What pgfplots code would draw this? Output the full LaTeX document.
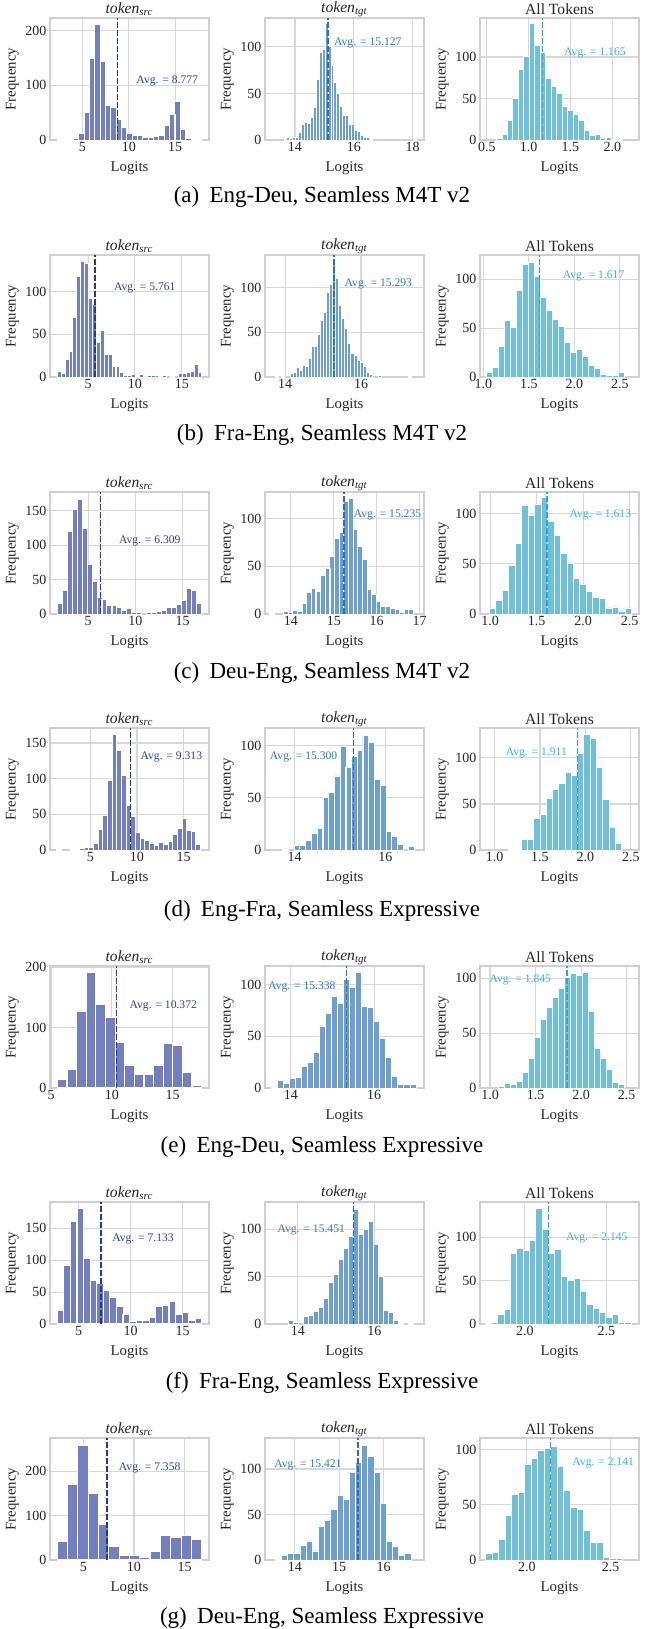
\documentclass[border=0pt]{standalone}
\usepackage{fontspec}
\setmainfont{Liberation Serif}
\usepackage{pgfplots}
\pgfplotsset{compat=1.18}
\definecolor{srcfill}{RGB}{115,127,190}
\definecolor{srcline}{RGB}{38,56,158}
\definecolor{srctext}{RGB}{45,65,165}
\definecolor{tgtfill}{RGB}{110,160,207}
\definecolor{tgtline}{RGB}{38,112,190}
\definecolor{tgttext}{RGB}{50,120,195}
\definecolor{allfill}{RGB}{112,192,217}
\definecolor{allline}{RGB}{40,168,208}
\definecolor{alltext}{RGB}{60,178,215}
\definecolor{gridc}{RGB}{216,216,216}
\definecolor{spinec}{RGB}{208,208,208}
\definecolor{txt}{RGB}{38,38,38}
\newcommand{\srctitle}{\textit{token}\textsubscript{\textit{src}}}
\newcommand{\tgttitle}{\textit{token}\textsubscript{\textit{tgt}}}
\tikzset{avgtext/.style={anchor=west, inner sep=0pt, font=\fontsize{5.8}{6}\selectfont}}
\pgfplotsset{
  every axis title shift=0pt,
  hbase/.style={
    scale only axis, width=79.5pt, height=61pt, anchor=north west, clip=false,
    ymin=0, axis line style={draw=spinec, line width=0.6pt},
    grid=major, grid style={draw=gridc, line width=0.55pt},
    major tick length=0pt,
    tick label style={font=\fontsize{7}{7}\selectfont, text=txt},
    xticklabel style={inner sep=0.8pt},
    yticklabel style={inner sep=0.8pt, xshift=-0.8pt},
    xlabel=Logits, ylabel=Frequency,
    label style={font=\fontsize{7.4}{7.5}\selectfont, text=txt},
    xlabel style={at={(axis description cs:0.5,-0.228)}, anchor=center},
    ylabel style={at={(axis description cs:-0.237,0.5)}, anchor=center},
    title style={at={(axis description cs:0.5,1.072)}, anchor=center, yshift=0pt, font=\fontsize{7.8}{8}\selectfont, inner sep=0pt, text=txt},
    /pgf/number format/assume math mode=true,
    scaled ticks=false,
  },
  onedec/.style={xticklabel style={/pgf/number format/.cd, fixed, fixed zerofill, precision=1}},
  srcbar/.style={ybar, bar shift=0pt, fill=srcfill, draw=white, line width=0.5pt},
  tgtbar/.style={ybar, bar shift=0pt, fill=tgtfill, draw=white, line width=0.4pt},
  allbar/.style={ybar, bar shift=0pt, fill=allfill, draw=white, line width=0.45pt},
  srcavg/.style={srcline, line width=0.8pt, dash pattern=on 2.8pt off 1.2pt},
  tgtavg/.style={tgtline, line width=0.8pt, dash pattern=on 2.8pt off 1.2pt},
  allavg/.style={allline, line width=0.8pt, dash pattern=on 2.8pt off 1.2pt},
}
\newcommand{\capfont}{\fontsize{11.5}{12}\selectfont}
\begin{document}
\begin{tikzpicture}
\useasboundingbox (0,0) rectangle (322pt,-814.5pt);
%================ Row (a)
\begin{axis}[hbase, at={(25pt,-9pt)}, xmin=1.5, xmax=18.64, ymax=223, xtick={5,10,15}, ytick={0,100,200}, title={\srctitle}]
\addplot[srcbar, bar width=0.577] coordinates {(2.57,1)(3.15,1)(3.72,1)(4.30,3)(4.88,11)(5.46,51)(6.03,149)(6.61,212)(7.19,143)(7.76,63)(8.34,59)(8.92,38)(9.49,23)(10.07,12)(10.65,9)(11.23,8)(11.80,4)(12.38,5)(12.96,7)(13.53,9)(14.11,27)(14.69,46)(15.26,70)(15.84,20)(16.42,3)(17.00,1)(17.57,1)};
\addplot[srcavg] coordinates {(8.777,0)(8.777,223)};
\node[avgtext, text=srctext] at (axis cs:10.78,108) {Avg. = 8.777};
\end{axis}
\begin{axis}[hbase, at={(132.5pt,-9pt)}, xmin=12.98, xmax=18.39, ymax=131, xtick={14,16,18}, ytick={0,50,100}, title={\tgttitle}]
\addplot[tgtbar, bar width=0.1, line width=0.3pt] coordinates {(13.67,1)(13.77,3)(13.87,2)(13.97,3)(14.07,3)(14.17,8)(14.27,17)(14.37,19)(14.47,18)(14.57,24)(14.67,35)(14.77,65)(14.87,94)(14.97,97)(15.07,125)(15.17,101)(15.27,80)(15.37,62)(15.47,50)(15.57,36)(15.67,26)(15.77,26)(15.87,17)(15.97,17)(16.07,10)(16.17,9)(16.27,5)(16.37,3)(16.47,3)(16.57,1)(18.07,1)};
\addplot[tgtavg] coordinates {(15.127,0)(15.127,131)};
\node[avgtext, text=tgttext] at (axis cs:15.32,104) {Avg. = 15.127};
\end{axis}
\begin{axis}[hbase, onedec, at={(240pt,-9pt)}, xmin=0.417, xmax=2.32, ymax=147, xtick={0.5,1.0,1.5,2.0}, ytick={0,50,100}, title={All Tokens}]
\addplot[allbar, bar width=0.0655] coordinates {(0.647,2)(0.713,7)(0.778,24)(0.844,50)(0.909,85)(0.975,101)(1.040,140)(1.106,114)(1.171,105)(1.237,74)(1.302,64)(1.368,56)(1.433,41)(1.499,36)(1.564,31)(1.630,24)(1.695,11)(1.761,6)(1.826,7)(1.892,2)(1.957,3)(2.023,1)(2.088,1)};
\addplot[allavg] coordinates {(1.165,0)(1.165,147)};
\node[avgtext, text=alltext] at (axis cs:1.42,105) {Avg. = 1.165};
\end{axis}
\node[font=\capfont] at (161pt,-98.5pt) {(a)\hspace{0.45em}Eng-Deu, Seamless M4T v2};
%================ Row (b)
\begin{axis}[hbase, at={(25pt,-127.5pt)}, xmin=0.94, xmax=17.9, ymax=143, xtick={5,10,15}, ytick={0,50,100}, title={\srctitle}]
\addplot[srcbar, bar width=0.417, line width=0.4pt] coordinates {(1.92,6)(2.34,4)(2.75,21)(3.17,30)(3.59,70)(4.01,118)(4.42,136)(4.84,133)(5.26,92)(5.67,85)(6.09,40)(6.51,55)(6.92,26)(7.34,26)(7.76,12)(8.18,12)(8.59,5)(9.01,2)(9.43,2)(9.84,3)(10.26,1)(10.68,3)(11.09,1)(11.51,2)(11.93,2)(12.35,2)(12.76,1)(13.18,2)(14.01,1)(14.85,4)(15.26,4)(15.68,5)(16.10,6)(16.52,15)(16.93,5)};
\addplot[srcavg] coordinates {(5.761,0)(5.761,143)};
\node[avgtext, text=srctext] at (axis cs:7.73,105) {Avg. = 5.761};
\end{axis}
\begin{axis}[hbase, at={(132.5pt,-127.5pt)}, xmin=13.47, xmax=17.66, ymax=136.7, xtick={14,16}, ytick={0,50,100}, title={\tgttitle}]
\addplot[tgtbar, bar width=0.08, line width=0.3pt] coordinates {(13.77,1)(13.93,1)(14.17,4)(14.25,5)(14.33,11)(14.41,8)(14.49,13)(14.57,12)(14.65,21)(14.73,34)(14.81,34)(14.89,48)(14.97,63)(15.05,72)(15.13,95)(15.21,104)(15.29,130)(15.37,111)(15.45,80)(15.53,66)(15.61,55)(15.69,38)(15.77,27)(15.85,24)(15.93,19)(16.01,17)(16.09,12)(16.17,5)(16.25,3)(16.49,2)(17.29,1)};
\addplot[tgtavg] coordinates {(15.293,0)(15.293,136.7)};
\node[avgtext, text=tgttext] at (axis cs:15.56,104) {Avg. = 15.293};
\end{axis}
\begin{axis}[hbase, onedec, at={(240pt,-127.5pt)}, xmin=0.964, xmax=2.71, ymax=125, xtick={1.0,1.5,2.0,2.5}, ytick={0,50,100}, title={All Tokens}]
\addplot[allbar, bar width=0.066] coordinates {(1.067,5)(1.133,10)(1.199,31)(1.265,58)(1.331,51)(1.397,89)(1.463,115)(1.529,117)(1.595,103)(1.661,82)(1.727,68)(1.793,59)(1.859,52)(1.925,35)(1.991,25)(2.057,28)(2.123,21)(2.189,12)(2.255,9)(2.321,3)(2.387,2)(2.453,2)(2.519,5)};
\addplot[allavg] coordinates {(1.617,0)(1.617,125)};
\node[avgtext, text=alltext] at (axis cs:1.87,104) {Avg. = 1.617};
\end{axis}
\node[font=\capfont] at (161pt,-217.5pt) {(b)\hspace{0.45em}Fra-Eng, Seamless M4T v2};
%================ Row (c)
\begin{axis}[hbase, at={(25pt,-246pt)}, xmin=0.96, xmax=17.8, ymax=177, xtick={5,10,15}, ytick={0,50,100,150}, title={\srctitle}]
\addplot[srcbar, bar width=0.527] coordinates {(1.99,15)(2.52,34)(3.04,120)(3.57,152)(4.10,166)(4.63,124)(5.15,72)(5.68,47)(6.21,24)(6.73,21)(7.26,12)(7.79,12)(8.31,9)(8.84,5)(9.37,8)(9.90,2)(10.42,2)(11.48,2)(12.00,2)(12.53,4)(13.06,5)(13.59,9)(14.11,10)(14.64,14)(15.17,20)(15.69,37)(16.22,34)(16.75,15)};
\addplot[srcavg] coordinates {(6.309,0)(6.309,177)};
\node[avgtext, text=srctext] at (axis cs:8.23,106) {Avg. = 6.309};
\end{axis}
\begin{axis}[hbase, at={(132.5pt,-246pt)}, xmin=13.40, xmax=17.1, ymax=128, xtick={14,15,16,17}, ytick={0,50,100}, title={\tgttitle}]
\addplot[tgtbar, bar width=0.108] coordinates {(13.56,1)(13.88,3)(13.99,2)(14.10,4)(14.21,3)(14.32,11)(14.42,23)(14.53,27)(14.64,24)(14.75,41)(14.86,48)(14.96,60)(15.07,79)(15.18,86)(15.29,118)(15.40,121)(15.50,89)(15.61,71)(15.72,57)(15.83,26)(15.94,21)(16.04,13)(16.15,8)(16.26,8)(16.37,6)(16.48,5)(16.58,2)(16.69,5)(16.80,5)};
\addplot[tgtavg] coordinates {(15.235,0)(15.235,128)};
\node[avgtext, text=tgttext] at (axis cs:15.46,104) {Avg. = 15.235};
\end{axis}
\begin{axis}[hbase, onedec, at={(240pt,-246pt)}, xmin=0.89, xmax=2.6, ymax=121.5, xtick={1.0,1.5,2.0,2.5}, ytick={0,50,100}, title={All Tokens}]
\addplot[allbar, bar width=0.0695] coordinates {(1.026,6)(1.096,14)(1.165,23)(1.235,48)(1.304,70)(1.374,108)(1.443,98)(1.513,109)(1.582,116)(1.652,92)(1.721,78)(1.791,60)(1.860,50)(1.930,35)(1.999,29)(2.069,22)(2.138,16)(2.208,15)(2.277,6)(2.347,7)(2.416,3)(2.486,6)};
\addplot[allavg] coordinates {(1.613,0)(1.613,121.5)};
\node[avgtext, text=alltext] at (axis cs:1.85,99) {Avg. = 1.613};
\end{axis}
\node[font=\capfont] at (161pt,-336.5pt) {(c)\hspace{0.45em}Deu-Eng, Seamless M4T v2};
%================ Row (d)
\begin{axis}[hbase, at={(25pt,-364pt)}, xmin=0.65, xmax=17.74, ymax=171, xtick={5,10,15}, ytick={0,50,100,150}, title={\srctitle}]
\addplot[srcbar, bar width=0.5] coordinates {(1.59,1)(3.09,1)(3.59,1)(4.09,2)(4.59,3)(5.09,3)(5.59,9)(6.09,29)(6.59,48)(7.09,98)(7.59,162)(8.09,140)(8.59,105)(9.09,63)(9.59,47)(10.09,25)(10.59,16)(11.09,14)(11.59,9)(12.09,6)(12.59,10)(13.09,8)(13.59,12)(14.09,22)(14.59,30)(15.09,44)(15.59,27)(16.09,26)(16.59,8)};
\addplot[srcavg] coordinates {(9.313,0)(9.313,171)};
\node[avgtext, text=srctext] at (axis cs:10.35,130) {Avg. = 9.313};
\end{axis}
\begin{axis}[hbase, at={(132.5pt,-364pt)}, xmin=13.35, xmax=16.85, ymax=117, xtick={14,16}, ytick={0,50,100}, title={\tgttitle}]
\addplot[tgtbar, bar width=0.1265] coordinates {(13.80,1)(14.05,4)(14.18,4)(14.31,9)(14.43,16)(14.56,21)(14.69,50)(14.81,55)(14.94,71)(15.07,99)(15.19,79)(15.32,90)(15.44,96)(15.57,110)(15.70,103)(15.82,68)(15.95,62)(16.08,18)(16.20,13)(16.33,5)(16.58,3)};
\addplot[tgtavg] coordinates {(15.300,0)(15.300,117)};
\node[avgtext, text=tgttext] at (axis cs:13.45,89) {Avg. = 15.300};
\end{axis}
\begin{axis}[hbase, onedec, at={(240pt,-364pt)}, xmin=0.84, xmax=2.59, ymax=132.5, xtick={1.0,1.5,2.0,2.5}, ytick={0,50,100}, title={All Tokens}]
\addplot[allbar, bar width=0.069] coordinates {(1.190,1)(1.259,1)(1.328,12)(1.397,11)(1.466,34)(1.535,39)(1.604,56)(1.673,66)(1.742,72)(1.811,84)(1.880,81)(1.949,105)(2.018,125)(2.087,121)(2.156,90)(2.225,55)(2.294,25)(2.363,7)};
\addplot[allavg] coordinates {(1.911,0)(1.911,132.5)};
\node[avgtext, text=alltext] at (axis cs:1.12,105) {Avg. = 1.911};
\end{axis}
\node[font=\capfont] at (161pt,-455.5pt) {(d)\hspace{0.45em}Eng-Fra, Seamless Expressive};
%================ Row (e)
\begin{axis}[hbase, at={(25pt,-483pt)}, xmin=4.9, xmax=18.0, ymax=201.7, xtick={5,10,15}, ytick={0,100,200}, title={\srctitle}]
\addplot[srcbar, bar width=0.793, line width=0.6pt] coordinates {(5.90,15)(6.69,31)(7.49,127)(8.28,191)(9.07,139)(9.87,117)(10.66,75)(11.45,37)(12.24,23)(13.04,22)(13.83,38)(14.62,74)(15.42,70)(16.21,25)(17.00,5)};
\addplot[srcavg] coordinates {(10.372,0)(10.372,201.7)};
\node[avgtext, text=srctext] at (axis cs:11.43,136) {Avg. = 10.372};
\end{axis}
\begin{axis}[hbase, at={(132.5pt,-483pt)}, xmin=13.38, xmax=17.2, ymax=118, xtick={14,16}, ytick={0,50,100}, title={\tgttitle}]
\addplot[tgtbar, bar width=0.145, line width=0.45pt] coordinates {(13.600,1)(13.745,7)(13.890,4)(14.035,9)(14.180,10)(14.325,21)(14.470,25)(14.615,34)(14.760,60)(14.905,72)(15.050,89)(15.195,82)(15.340,105)(15.485,97)(15.630,112)(15.775,79)(15.920,78)(16.065,64)(16.210,48)(16.355,30)(16.500,11)(16.645,3)(16.790,3)(16.935,3)};
\addplot[tgtavg] coordinates {(15.338,0)(15.338,118)};
\node[avgtext, text=tgttext] at (axis cs:13.45,98) {Avg. = 15.338};
\end{axis}
\begin{axis}[hbase, onedec, at={(240pt,-483pt)}, xmin=0.89, xmax=2.635, ymax=111, xtick={1.0,1.5,2.0,2.5}, ytick={0,50,100}, title={All Tokens}]
\addplot[allbar, bar width=0.066] coordinates {(1.126,1)(1.192,4)(1.258,3)(1.324,6)(1.390,14)(1.456,27)(1.522,46)(1.588,62)(1.654,73)(1.720,82)(1.786,91)(1.852,101)(1.918,104)(1.984,102)(2.050,105)(2.116,70)(2.182,36)(2.248,27)(2.314,17)(2.380,5)(2.446,3)};
\addplot[allavg] coordinates {(1.845,0)(1.845,111)};
\node[avgtext, text=alltext] at (axis cs:0.99,98) {Avg. = 1.845};
\end{axis}
\node[font=\capfont] at (161pt,-573.5pt) {(e)\hspace{0.45em}Eng-Deu, Seamless Expressive};
%================ Row (f)
\begin{axis}[hbase, at={(25pt,-601pt)}, xmin=2.24, xmax=17.53, ymax=191, xtick={5,10,15}, ytick={0,50,100,150}, title={\srctitle}]
\addplot[srcbar, bar width=0.632, line width=0.55pt] coordinates {(3.26,22)(3.89,91)(4.52,160)(5.16,181)(5.79,103)(6.42,68)(7.05,63)(7.68,53)(8.32,41)(8.95,28)(9.58,15)(10.21,4)(10.84,6)(11.48,6)(12.11,11)(12.74,27)(13.37,29)(14.00,36)(14.64,15)(15.27,18)(15.90,5)(16.53,9)};
\addplot[srcavg] coordinates {(7.133,0)(7.133,191)};
\node[avgtext, text=srctext] at (axis cs:8.19,134) {Avg. = 7.133};
\end{axis}
\begin{axis}[hbase, at={(132.5pt,-601pt)}, xmin=13.14, xmax=17.3, ymax=128.6, xtick={14,16}, ytick={0,50,100}, title={\tgttitle}]
\addplot[tgtbar, bar width=0.131] coordinates {(13.82,4)(13.95,2)(14.21,8)(14.34,9)(14.47,13)(14.61,17)(14.74,27)(14.87,44)(15.00,52)(15.13,68)(15.26,80)(15.39,92)(15.52,121)(15.65,94)(15.79,100)(15.92,108)(16.05,84)(16.18,50)(16.31,14)(16.44,12)(16.57,4)(16.70,1)(16.96,1)};
\addplot[tgtavg] coordinates {(15.451,0)(15.451,128.6)};
\node[avgtext, text=tgttext] at (axis cs:13.46,99) {Avg. = 15.451};
\end{axis}
\begin{axis}[hbase, onedec, at={(240pt,-601pt)}, xmin=1.725, xmax=2.7, ymax=140.5, xtick={2.0,2.5}, ytick={0,50,100}, title={All Tokens}]
\addplot[allbar, bar width=0.039] coordinates {(1.775,1)(1.814,2)(1.853,11)(1.892,17)(1.931,81)(1.970,87)(2.009,85)(2.048,96)(2.087,133)(2.126,109)(2.165,81)(2.204,86)(2.243,55)(2.282,50)(2.321,52)(2.360,38)(2.399,23)(2.438,18)(2.477,13)(2.516,8)(2.555,11)(2.594,2)(2.633,2)};
\addplot[allavg] coordinates {(2.145,0)(2.145,140.5)};
\node[avgtext, text=alltext] at (axis cs:2.25,99) {Avg. = 2.145};
\end{axis}
\node[font=\capfont] at (161pt,-691.5pt) {(f)\hspace{0.45em}Fra-Eng, Seamless Expressive};
%================ Row (g)
\begin{axis}[hbase, at={(25pt,-719pt)}, xmin=1.72, xmax=17.4, ymax=275, xtick={5,10,15}, ytick={0,100,200}, title={\srctitle}]
\addplot[srcbar, bar width=1.018, line width=0.6pt] coordinates {(2.94,43)(3.96,170)(4.98,258)(6.00,150)(7.01,81)(8.03,31)(9.05,10)(10.07,10)(11.08,6)(12.10,19)(13.12,56)(14.14,51)(15.16,56)(16.17,46)};
\addplot[srcavg] coordinates {(7.358,0)(7.358,275)};
\node[avgtext, text=srctext] at (axis cs:8.48,207) {Avg. = 7.358};
\end{axis}
\begin{axis}[hbase, at={(132.5pt,-719pt)}, xmin=13.33, xmax=16.91, ymax=134, xtick={14,15,16}, ytick={0,50,100}, title={\tgttitle}]
\addplot[tgtbar, bar width=0.139] coordinates {(13.630,1)(13.769,5)(13.908,7)(14.047,7)(14.186,16)(14.325,21)(14.464,10)(14.603,37)(14.742,44)(14.881,56)(15.020,71)(15.159,67)(15.298,96)(15.437,107)(15.576,126)(15.715,114)(15.854,96)(15.993,62)(16.132,21)(16.271,15)(16.410,5)(16.549,7)};
\addplot[tgtavg] coordinates {(15.421,0)(15.421,134)};
\node[avgtext, text=tgttext] at (axis cs:13.53,104) {Avg. = 15.421};
\end{axis}
\begin{axis}[hbase, onedec, at={(240pt,-719pt)}, xmin=1.72, xmax=2.67, ymax=110.5, xtick={2.0,2.5}, ytick={0,50,100}, title={All Tokens}]
\addplot[allbar, bar width=0.039] coordinates {(1.773,6)(1.812,7)(1.851,19)(1.890,40)(1.929,59)(1.968,61)(2.007,87)(2.046,92)(2.085,99)(2.124,101)(2.163,103)(2.202,85)(2.241,63)(2.280,48)(2.319,46)(2.358,27)(2.397,16)(2.436,16)(2.475,2)(2.514,1)(2.553,1)};
\addplot[allavg] coordinates {(2.141,0)(2.141,110.5)};
\node[avgtext, text=alltext] at (axis cs:2.27,88) {Avg. = 2.141};
\end{axis}
\node[font=\capfont] at (161pt,-809pt) {(g)\hspace{0.45em}Deu-Eng, Seamless Expressive};
\end{tikzpicture}
\end{document}
